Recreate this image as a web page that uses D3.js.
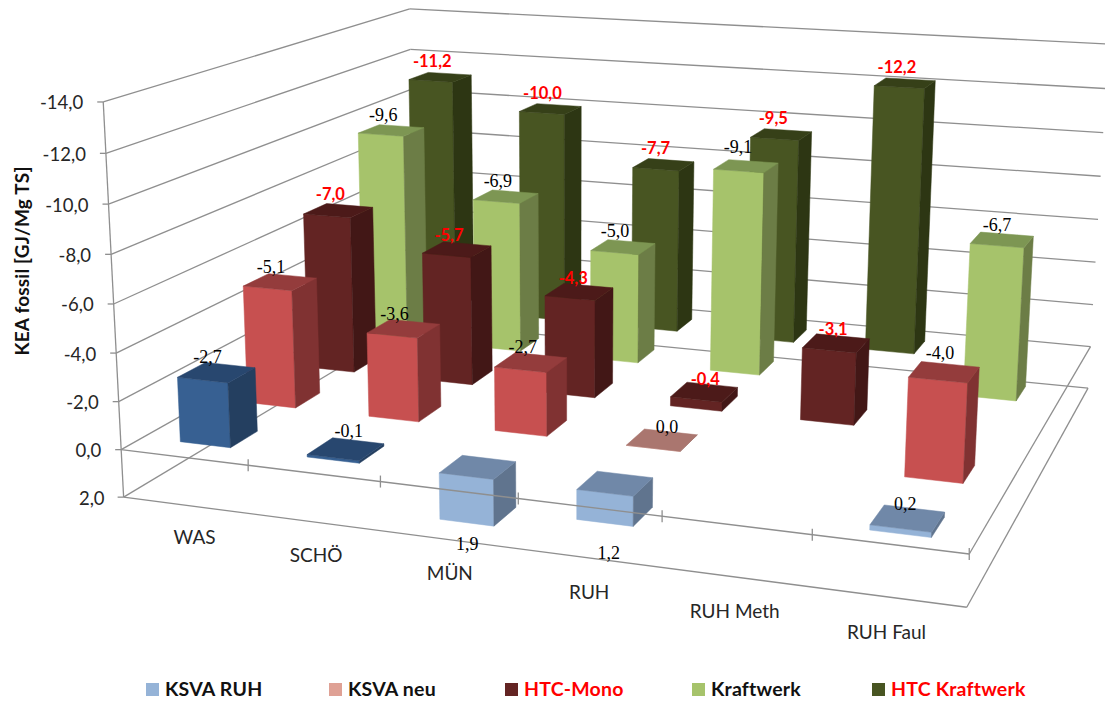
<!DOCTYPE html>
<html>
<head>
<meta charset="utf-8">
<script src="https://cdn.jsdelivr.net/npm/d3@7"></script>
<style>
html,body{margin:0;padding:0;background:#fff;overflow:hidden}
svg{display:block}
</style>
</head>
<body>
<svg id="chart" width="1105" height="701"></svg>
<script>
// Categories and series, front row first
const categories = ["WAS", "SCHÖ", "MÜN", "RUH", "RUH Meth", "RUH Faul"];
const seriesNames = ["KSVA RUH", "KSVA neu", "HTC-Mono", "Kraftwerk", "HTC Kraftwerk"];
const ksvaRuh = [-2.7, -0.1, 1.9, 1.2, null, 0.2];
const ksvaNeu = [-5.1, -3.6, -2.7, 0.0, null, -4.0];
const htcMono = [-7.0, -5.7, -4.3, -0.4, -3.1, null];
const kraftwerk = [-9.6, -6.9, -5.0, -9.1, null, -6.7];
const htcKraftwerk = [-11.2, -10.0, -7.7, -9.5, -12.2, null];
const valueTicks = [-14, -12, -10, -8, -6, -4, -2, 0, 2];
const seriesValues = [ksvaRuh, ksvaNeu, htcMono, kraftwerk, htcKraftwerk];

// Face shades per series: front, side, top (negative values / positive values)
const shades = [
  { neg: ["#376092", "#243f60", "#28476f"], pos: ["#95b3d7", "#60748e", "#7088a8"], key: "#95b3d7" },
  { neg: ["#c75050", "#803232", "#943c3c"], pos: ["#e6b9b0", "#8e6660", "#aa766f"], key: "#dfa195" },
  { neg: ["#632423", "#421716", "#4c1a19"], pos: ["#632423", "#421716", "#4c1a19"], key: "#632423" },
  { neg: ["#a6c36b", "#6c7d46", "#7d9653"], pos: ["#a6c36b", "#6c7d46", "#7d9653"], key: "#a6c36b" },
  { neg: ["#485522", "#2d3613", "#364018"], pos: ["#485522", "#2d3613", "#364018"], key: "#485522" }
];
const highlighted = new Set([2, 4]);

// Camera calibration: box corners (along, deep, value) and where they land on the page
const frameAnchors = [
  [0, 0, -14, 102, 102], [0, 0, 0, 122, 450], [0, 0, 2, 124, 497],
  [1, 0, 0, 969, 553], [1, 0, 2, 967, 608],
  [1, 1, 0, 1091, 347], [1, 1, 2, 1088, 388], [1, 1, -14, 1108, 44],
  [0, 1, -14, 411, 9], [0, 1, 2, 414, 322]
];

// Hand placement of labels near the floor, keyed by series and category index
const labelNudges = {
  "0|0": [-1, 0], "0|1": [11, -2], "0|2": [-3, 8], "0|3": [2, 17], "0|5": [6, -42],
  "1|0": [-1, 1], "1|1": [-1, 1], "1|3": [13, 3], "1|5": [4, -3],
  "2|3": [9, 3], "2|4": [5, 2], "2|2": [2, 2], "2|1": [0, 2],
  "3|3": [0, -3], "3|5": [3, 1],
  "4|4": [0, 0], "4|3": [0, 0]
};
const categoryNudges = { "WAS": 7 };
const legendStarts = [146, 329, 505, 692, 872];

function solve(A, b) {
  const n = b.length, M = A.map((r, i) => [...r, b[i]]);
  for (let c = 0; c < n; c++) {
    let p = c;
    for (let r = c + 1; r < n; r++) if (Math.abs(M[r][c]) > Math.abs(M[p][c])) p = r;
    [M[c], M[p]] = [M[p], M[c]];
    for (let r = 0; r < n; r++) {
      if (r === c) continue;
      const f = M[r][c] / M[c][c];
      for (let k = c; k <= n; k++) M[r][k] -= f * M[c][k];
    }
  }
  return M.map((r, i) => r[n] / r[i]);
}

// Least-squares fit of an 11-parameter pinhole projection
function fitProjection(pts) {
  const rows = [], rhs = [];
  pts.forEach(([u, w, v, x, y]) => {
    rows.push([1, u, w, v, 0, 0, 0, 0, -x * u, -x * w, -x * v]); rhs.push(x);
    rows.push([0, 0, 0, 0, 1, u, w, v, -y * u, -y * w, -y * v]); rhs.push(y);
  });
  const N = 11;
  const AtA = d3.range(N).map(i => d3.range(N).map(j => d3.sum(rows, r => r[i] * r[j])));
  const Atb = d3.range(N).map(i => d3.sum(rows, (r, k) => r[i] * rhs[k]));
  const m = solve(AtA, Atb);
  return (u, w, v) => {
    const d = 1 + m[8] * u + m[9] * w + m[10] * v;
    return [(m[0] + m[1] * u + m[2] * w + m[3] * v) / d,
            (m[4] + m[5] * u + m[6] * w + m[7] * v) / d];
  };
}
const project = fitProjection(frameAnchors);

const xBand = d3.scaleBand().domain(categories).range([0, 1]).paddingInner(0.6).paddingOuter(0.3);
const zBand = d3.scaleBand().domain(seriesNames).range([0, 1]).paddingInner(0.6).paddingOuter(0.3);
const fmt = d3.formatLocale({ decimal: ",", thousands: ".", grouping: [3], currency: ["", ""], minus: "-" }).format(".1f");

const svg = d3.select("#chart");
const gridColor = "#8f8f8f";
const line = d3.line();

function segment(parent, a, b, w) {
  parent.append("path").attr("d", line([project(...a), project(...b)]))
    .attr("fill", "none").attr("stroke", gridColor).attr("stroke-width", w || 1.3);
}

// Walls and floor grid
const grid = svg.append("g");
valueTicks.forEach(v => {
  segment(grid, [0, 0, v], [0, 1, v]);
  segment(grid, [0, 1, v], [1, 1, v]);
});
[0, 2].forEach(v => {
  segment(grid, [1, 0, v], [1, 1, v]);
});
segment(grid, [0, 0, 2], [1, 0, 2]);
segment(grid, [0, 0, -14], [0, 0, 2]);

// Value axis ticks and labels
const axis = svg.append("g");
valueTicks.forEach(v => {
  const [x, y] = project(0, 0, v);
  axis.append("line").attr("x1", x - 6).attr("x2", x).attr("y1", y).attr("y2", y)
    .attr("stroke", gridColor).attr("stroke-width", 1.3);
  axis.append("text").attr("x", x - 20 + (v === 2 ? 1 : 0)).attr("y", y + 1).attr("dy", "0.35em").attr("text-anchor", "end")
    .attr("font-family", "Lato, sans-serif").attr("font-size", 18.5).attr("fill", "#262626").text(fmt(v));
});

svg.append("text").attr("transform", "translate(22,261) rotate(-90)")
  .attr("text-anchor", "middle").attr("dy", "0.35em").attr("font-family", "Lato, sans-serif").attr("font-weight", 700)
  .attr("font-size", 19).attr("letter-spacing", 0.2).attr("fill", "#111").text("KEA fossil [GJ/Mg TS]");

// Bars, painted far row first and left to right
const bars = svg.append("g");
const labels = [];
d3.range(seriesNames.length).reverse().forEach(si => {
  const z0 = zBand(seriesNames[si]), z1 = z0 + zBand.bandwidth();
  categories.forEach((cat, ci) => {
    const val = seriesValues[si][ci];
    if (val === null) return;
    const x0 = xBand(cat), x1 = x0 + xBand.bandwidth();
    const near = val < 0 ? val : 0;   // upper end of the bar
    const low = val < 0 ? 0 : val;    // lower end of the bar
    const [front, side, top] = val < 0 ? shades[si].neg : shades[si].pos;
    const faces = [
      [[x0, z0, near], [x1, z0, near], [x1, z0, low], [x0, z0, low], front],
      [[x1, z0, near], [x1, z1, near], [x1, z1, low], [x1, z0, low], side],
      [[x0, z0, near], [x0, z1, near], [x1, z1, near], [x1, z0, near], top]
    ];
    const g = bars.append("g");
    faces.forEach(f => {
      g.append("path").attr("d", line(f.slice(0, 4).map(p => project(...p))) + "Z")
        .attr("fill", f[4]).attr("stroke", f[4]).attr("stroke-width", 0.5);
    });
    const [lx, ly] = project((x0 + x1) / 2, (z0 + z1) / 2, val);
    labels.push({ x: lx, y: ly, val, si, ci });
  });
});

// Front edge of the zero plane runs across the bars that hang below it
const front = svg.append("g");
segment(front, [0, 0, 0], [1, 0, 0]);
d3.range(1, categories.length + 1).forEach(i => {
  const [x, y] = project(i / categories.length, 0, 0);
  front.append("line").attr("x1", x).attr("x2", x).attr("y1", y - 6).attr("y2", y + 6)
    .attr("stroke", gridColor).attr("stroke-width", 1.3);
});

// Data labels
labels.forEach(d => {
  const red = highlighted.has(d.si);
  const [nx, ny] = labelNudges[d.si + "|" + d.ci] || [0, 0];
  svg.append("text").attr("x", d.x - 8 + nx).attr("y", (d.val > 0 ? d.y + 22 : d.y - 16) + ny)
    .attr("text-anchor", "middle").attr("dy", "0.35em")
    .attr("font-family", red ? "Lato, sans-serif" : "'Liberation Serif', serif")
    .attr("font-weight", red ? 700 : 400).attr("font-size", red ? 16.5 : 18)
    .attr("fill", red ? "#ff0000" : "#000").text(fmt(d.val));
});

// Category labels sit below the lower front edge
categories.forEach(cat => {
  const [x, y] = project(xBand(cat) + xBand.bandwidth() / 2, 0, 3.4);
  svg.append("text").attr("x", x + (categoryNudges[cat] || 0)).attr("y", y - 1).attr("text-anchor", "middle").attr("dy", "0.35em")
    .attr("font-family", "Lato, sans-serif").attr("font-size", 19).attr("fill", "#262626").text(cat);
});

// Legend
seriesNames.forEach((name, i) => {
  const x = legendStarts[i];
  svg.append("rect").attr("x", x).attr("y", 683).attr("width", 13).attr("height", 13).attr("fill", shades[i].key);
  svg.append("text").attr("x", x + 19).attr("y", 689.5).attr("dy", "0.35em")
    .attr("font-family", "Lato, sans-serif").attr("font-weight", 700).attr("font-size", 19.5).attr("letter-spacing", 0.2)
    .attr("fill", highlighted.has(i) ? "#ff0000" : "#111").text(name);
});
</script>
</body>
</html>
